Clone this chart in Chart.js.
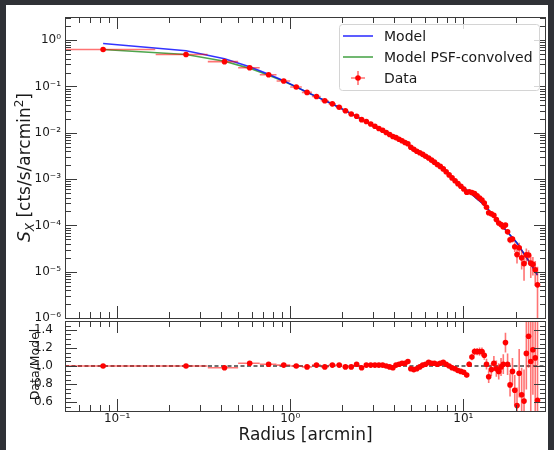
<!DOCTYPE html>
<html>
<head>
<meta charset="utf-8">
<script src="https://cdn.jsdelivr.net/npm/chart.js@4.4.0/dist/chart.umd.min.js"></script>
<style>
html, body { margin: 0; padding: 0; width: 554px; height: 450px; overflow: hidden; background: #2f3136; }
#sheet { position: absolute; left: 6px; top: 5px; width: 542px; height: 445px; background: #ffffff; }
#main { position: absolute; left: 0; top: 0; }
#ratio { position: absolute; left: 0; top: 317px; }
</style>
</head>
<body>
<div id="sheet"></div>
<canvas id="main" width="554" height="330"></canvas>
<canvas id="ratio" width="554" height="133"></canvas>
<script>
// radius bins [arcmin]
var radius = [0.083, 0.25, 0.417, 0.583, 0.75, 0.917, 1.083, 1.25, 1.417, 1.583, 1.75, 1.917, 2.083, 2.25, 2.417, 2.583, 2.75, 2.917, 3.083, 3.25, 3.417, 3.583, 3.75, 3.917,
    4.08, 4.25, 4.42, 4.6, 4.78, 4.97, 5.17, 5.38, 5.6, 5.82, 6.05, 6.3, 6.55, 6.8, 7.07, 7.35, 7.65, 7.95, 8.27, 8.6, 8.95, 9.3, 9.67, 10.05, 10.45,
    10.8, 11.2, 11.6, 12.0, 12.4, 12.8, 13.2, 13.6, 14.0, 14.5, 15.0, 15.5, 16.0, 16.5, 17.0, 17.5, 18.0, 18.6, 19.2, 19.8, 20.4, 21.0, 21.7, 22.4, 23.1, 23.8, 24.5, 25.2, 26.0, 26.8];
var radiusErr = [0.083, 0.083, 0.083, 0.083, 0.083, 0.083, 0.083, 0.083, 0.083, 0.083, 0.083, 0.083, 0.083, 0.083, 0.083, 0.083, 0.083, 0.083, 0.083, 0.083, 0.083, 0.083, 0.083, 0.083,
    0.085, 0.085, 0.088, 0.09, 0.093, 0.097, 0.1, 0.105, 0.11, 0.113, 0.118, 0.122, 0.127, 0.133, 0.138, 0.143, 0.15, 0.155, 0.16, 0.168, 0.175, 0.18, 0.19, 0.195, 0.2,
    0.2, 0.2, 0.2, 0.2, 0.2, 0.2, 0.2, 0.2, 0.22, 0.25, 0.25, 0.25, 0.25, 0.25, 0.25, 0.25, 0.28, 0.3, 0.3, 0.3, 0.3, 0.32, 0.35, 0.35, 0.35, 0.35, 0.35, 0.37, 0.4, 0.4];

// surface brightness [cts/s/arcmin^2]
var modelSx = [0.85, 0.59, 0.397, 0.265, 0.183, 0.133, 0.098, 0.0752, 0.0603, 0.0496, 0.0417, 0.0351, 0.0301, 0.0258, 0.0223, 0.0196, 0.0173, 0.0153, 0.0137, 0.0123, 0.0112, 0.0101, 0.00927, 0.00849,
    0.00778, 0.00713, 0.00653, 0.0060, 0.00553, 0.00501, 0.00456, 0.00412, 0.00375, 0.00339, 0.00305, 0.00275, 0.00249, 0.00225, 0.00203, 0.00183, 0.00160, 0.00141, 0.00123, 0.00108, 0.000951, 0.000839, 0.000743, 0.000656, 0.000579,
    0.000521, 0.000465, 0.000417, 0.000373, 0.000336, 0.000305, 0.000272, 0.000241, 0.000214, 0.000185, 0.000160, 0.000138, 0.000120, 0.000105, 0.0000910, 0.0000807, 0.0000711, 0.0000621, 0.0000540, 0.0000474, 0.0000417, 0.0000356, 0.0000293, 0.0000244, 0.0000204, 0.0000172, 0.0000146, 0.0000123, 0.0000101, 0.0000084];
var modelPsfSx = [0.63, 0.489, 0.350, 0.246, 0.175, 0.130, 0.097, 0.0752, 0.0603, 0.0496, 0.0417, 0.0351, 0.0301, 0.0258, 0.0223, 0.0196, 0.0173, 0.0153, 0.0137, 0.0123, 0.0112, 0.0101, 0.00927, 0.00849,
    0.00778, 0.00713, 0.00653, 0.0060, 0.00553, 0.00501, 0.00456, 0.00412, 0.00375, 0.00339, 0.00305, 0.00275, 0.00249, 0.00225, 0.00203, 0.00183, 0.00160, 0.00141, 0.00123, 0.00108, 0.000951, 0.000839, 0.000743, 0.000656, 0.000579,
    0.000521, 0.000465, 0.000417, 0.000373, 0.000336, 0.000305, 0.000272, 0.000241, 0.000214, 0.000185, 0.000160, 0.000138, 0.000120, 0.000105, 0.0000910, 0.0000807, 0.0000711, 0.0000621, 0.0000540, 0.0000474, 0.0000417, 0.0000356, 0.0000293, 0.0000244, 0.0000204, 0.0000172, 0.0000146, 0.0000123, 0.0000101, 0.0000084];
var dataSx = [0.63, 0.489, 0.343, 0.253, 0.179, 0.131, 0.097, 0.0744, 0.0609, 0.0491, 0.0421, 0.0355, 0.0298, 0.0255, 0.0227, 0.0192, 0.0175, 0.0155, 0.0138, 0.0124, 0.0113, 0.0101, 0.00918, 0.00832,
    0.00786, 0.00727, 0.00673, 0.00618, 0.00581, 0.00486, 0.00438, 0.00400, 0.00371, 0.00342, 0.00311, 0.00286, 0.00256, 0.00232, 0.00207, 0.00188, 0.00166, 0.00144, 0.00123, 0.00106, 0.000922, 0.000797, 0.000698, 0.000610, 0.000521,
    0.000531, 0.000512, 0.000484, 0.000433, 0.000390, 0.000354, 0.000305, 0.000246, 0.000188, 0.000178, 0.000165, 0.000134, 0.000113, 0.000104, 0.0000928, 0.000102, 0.0000725, 0.0000491, 0.0000508, 0.0000346, 0.0000234, 0.0000328, 0.0000199, 0.0000149, 0.0000233, 0.0000229, 0.0000153, 0.0000145, 0.0000110, 0.0000052];
var dataSxErr = [0.0095, 0.0049, 0.0035, 0.0025, 0.0018, 0.0013, 0.001, 0.00075, 0.0006, 0.0005, 0.00042, 0.00035, 0.0003, 0.00026, 0.00022, 0.0002, 0.00017, 0.00015, 0.00014, 0.00012, 0.00011, 0.0001, 0.000093, 0.000085,
    0.000078, 0.000071, 0.000065, 0.00006, 0.000055, 0.00006, 0.000055, 0.000049, 0.000045, 0.000041, 0.000043, 0.000039, 0.000035, 0.000034, 0.00003, 0.000029, 0.000026, 0.000024, 0.000022, 0.000022, 0.000019, 0.000018, 0.000018, 0.000016, 0.000016,
    0.0000156, 0.0000163, 0.0000167, 0.0000149, 0.0000151, 0.0000137, 0.0000136, 0.0000145, 0.000015, 0.000013, 0.0000128, 0.0000124, 0.0000108, 0.0000105, 0.00001, 0.0000089, 0.0000085, 0.0000081, 0.0000081, 0.0000081, 0.0000083, 0.0000096, 0.0000088, 0.0000085, 0.0000082, 0.000006, 0.000008, 0.0000062, 0.0000061, 0.0000076];

// data / PSF-convolved model
var ratio = [1.00, 1.00, 0.98, 1.03, 1.02, 1.01, 1.00, 0.99, 1.01, 0.99, 1.01, 1.01, 0.99, 0.99, 1.02, 0.98, 1.01, 1.01, 1.01, 1.01, 1.01, 1.00, 0.99, 0.98,
    1.01, 1.02, 1.03, 1.03, 1.05, 0.97, 0.96, 0.97, 0.99, 1.01, 1.02, 1.04, 1.03, 1.03, 1.02, 1.03, 1.04, 1.02, 1.00, 0.98, 0.97, 0.95, 0.94, 0.93, 0.90,
    1.02, 1.10, 1.16, 1.16, 1.16, 1.16, 1.12, 1.02, 0.88, 0.96, 1.03, 0.97, 0.94, 0.99, 1.02, 1.26, 1.02, 0.79, 0.94, 0.73, 0.56, 0.92, 0.68, 0.61, 1.14, 1.33, 1.05, 1.18, 1.09, 0.62];
var ratioErr = [0.015, 0.01, 0.01, 0.01, 0.01, 0.01, 0.01, 0.01, 0.01, 0.01, 0.01, 0.01, 0.01, 0.01, 0.01, 0.01, 0.01, 0.01, 0.01, 0.01, 0.01, 0.01, 0.01, 0.01,
    0.01, 0.01, 0.01, 0.01, 0.01, 0.012, 0.012, 0.012, 0.012, 0.012, 0.014, 0.014, 0.014, 0.015, 0.015, 0.016, 0.016, 0.017, 0.018, 0.02, 0.02, 0.022, 0.024, 0.025, 0.028,
    0.03, 0.035, 0.04, 0.04, 0.045, 0.045, 0.05, 0.06, 0.07, 0.07, 0.08, 0.09, 0.09, 0.1, 0.11, 0.11, 0.12, 0.13, 0.15, 0.17, 0.2, 0.27, 0.3, 0.35, 0.4, 0.35, 0.55, 0.5, 0.6, 0.9];
var ratioRef = 1.0;

// axes
var xLimits = [0.05, 30];
var yLimits = [1e-6, 3.1623];
var ratioLimits = [0.5, 1.5];
var xTickValues = [0.1, 1, 10];
var xTickLabels = ['10\u207B\u00B9', '10\u2070', '10\u00B9'];
var yTickValues = [1e-6, 1e-5, 1e-4, 1e-3, 1e-2, 1e-1, 1];
var yTickLabels = ['10\u207B\u2076', '10\u207B\u2075', '10\u207B\u2074', '10\u207B\u00B3', '10\u207B\u00B2', '10\u207B\u00B9', '10\u2070'];
var ratioTickValues = [0.6, 0.8, 1.0, 1.2, 1.4];
var ratioTickLabels = ['0.6', '0.8', '1.0', '1.2', '1.4'];
var ratioMinorTicks = [0.55, 0.65, 0.7, 0.75, 0.85, 0.9, 0.95, 1.05, 1.1, 1.15, 1.25, 1.3, 1.35, 1.45];

var FONT = '"DejaVu Sans"';
var TEXT = '#1a1a1a';
var MAJOR = 12, MINOR = 6;

Chart.defaults.font.family = 'DejaVu Sans';

function points(xs, ys) {
    return xs.map(function (x, i) { return { x: x, y: ys[i] }; });
}

function logMinors(min, max) {
    var out = [];
    for (var e = Math.floor(Math.log10(min)); e <= Math.ceil(Math.log10(max)); e++) {
        for (var m = 2; m <= 9; m++) {
            var v = m * Math.pow(10, e);
            if (v > min && v < max) out.push(v);
        }
    }
    return out;
}

function noPadding(s) {
    s.paddingTop = 0;
    s.paddingBottom = 0;
    s.paddingLeft = 0;
    s.paddingRight = 0;
}

var errorBars = {
    id: 'errorBars',
    beforeDatasetDraw: function (chart, args) {
        var ds = chart.data.datasets[args.index];
        if (!ds.errY) return;
        var ctx = chart.ctx, a = chart.chartArea, xs = chart.scales.x, ys = chart.scales.y;
        ctx.save();
        ctx.beginPath();
        ctx.rect(a.left, a.top, a.right - a.left, a.bottom - a.top);
        ctx.clip();
        ctx.strokeStyle = 'rgba(255,0,0,0.55)';
        ctx.lineWidth = 1.6;
        ds.data.forEach(function (p, i) {
            var px = xs.getPixelForValue(p.x), py = ys.getPixelForValue(p.y);
            var lo = p.y - ds.errY[i];
            var pLo = lo <= 0 ? a.bottom + 3 : ys.getPixelForValue(lo);
            var pHi = ys.getPixelForValue(p.y + ds.errY[i]);
            var xl = p.x - ds.errX[i];
            var pxL = xl <= 0 ? a.left - 3 : xs.getPixelForValue(xl);
            var pxR = xs.getPixelForValue(p.x + ds.errX[i]);
            ctx.beginPath();
            ctx.moveTo(px, pLo); ctx.lineTo(px, pHi);
            ctx.moveTo(pxL, py); ctx.lineTo(pxR, py);
            ctx.stroke();
        });
        ctx.restore();
    }
};

function makeFrame(yMajor, yMinor, extras) {
    return {
        id: 'frame',
        afterDraw: function (chart) {
            var ctx = chart.ctx, a = chart.chartArea, xs = chart.scales.x, ys = chart.scales.y;
            ctx.save();
            ctx.strokeStyle = '#3a3a3a';
            ctx.lineWidth = 1;
            ctx.beginPath();
            function vt(v, len) {
                var p = Math.round(xs.getPixelForValue(v)) + 0.5;
                ctx.moveTo(p, a.bottom); ctx.lineTo(p, a.bottom - len);
                ctx.moveTo(p, a.top); ctx.lineTo(p, a.top + len);
            }
            function ht(v, len) {
                var p = Math.round(ys.getPixelForValue(v)) + 0.5;
                ctx.moveTo(a.left, p); ctx.lineTo(a.left + len, p);
                ctx.moveTo(a.right, p); ctx.lineTo(a.right - len, p);
            }
            xTickValues.forEach(function (v) { vt(v, MAJOR); });
            logMinors(xLimits[0], xLimits[1]).forEach(function (v) { vt(v, MINOR); });
            yMajor.forEach(function (v) { ht(v, MAJOR); });
            yMinor.forEach(function (v) { ht(v, MINOR); });
            ctx.stroke();
            ctx.strokeRect(a.left + 0.5, a.top + 0.5, a.right - a.left - 1, a.bottom - a.top);
            ctx.restore();
            if (extras) extras(chart);
        }
    };
}

function drawRotated(ctx, cx, cy, parts) {
    ctx.save();
    ctx.translate(cx, cy);
    ctx.rotate(-Math.PI / 2);
    ctx.fillStyle = TEXT;
    ctx.textBaseline = 'alphabetic';
    var total = 0;
    parts.forEach(function (p) { ctx.font = p.f; p.w = ctx.measureText(p.t).width; total += p.w; });
    var x = -total / 2;
    parts.forEach(function (p) { ctx.font = p.f; ctx.fillText(p.t, x, p.dy); x += p.w; });
    ctx.restore();
}

function drawMainExtras(chart) {
    var ctx = chart.ctx;
    drawRotated(ctx, 25, 167.5, [
        { t: 'S', f: 'italic 17px ' + FONT, dy: 5 },
        { t: 'X', f: 'italic 12px ' + FONT, dy: 9 },
        { t: ' [cts/s/arcmin', f: '17px ' + FONT, dy: 5 },
        { t: '2', f: '12px ' + FONT, dy: -2 },
        { t: ']', f: '17px ' + FONT, dy: 5 }
    ]);

    // legend
    var ds = chart.data.datasets;
    ctx.save();
    ctx.beginPath();
    ctx.roundRect(339.5, 24.5, 200, 66, 3);
    ctx.fillStyle = 'rgba(255,255,255,0.8)';
    ctx.fill();
    ctx.strokeStyle = '#d4d4d4';
    ctx.lineWidth = 1;
    ctx.stroke();
    ctx.font = '14px ' + FONT;
    ctx.fillStyle = TEXT;
    ctx.textBaseline = 'alphabetic';
    var rows = [36, 57, 78];
    ds.forEach(function (d, i) {
        var y = rows[i];
        if (d.errY) {
            ctx.strokeStyle = 'rgba(255,0,0,0.55)';
            ctx.lineWidth = 1.6;
            ctx.beginPath();
            ctx.moveTo(358, y - 7); ctx.lineTo(358, y + 7);
            ctx.moveTo(351, y); ctx.lineTo(365, y);
            ctx.stroke();
            ctx.fillStyle = 'red';
            ctx.beginPath();
            ctx.arc(358, y, 2.8, 0, Math.PI * 2);
            ctx.fill();
        } else {
            ctx.strokeStyle = d.borderColor;
            ctx.lineWidth = 1.6;
            ctx.beginPath();
            ctx.moveTo(343, y); ctx.lineTo(373, y);
            ctx.stroke();
        }
        ctx.fillStyle = TEXT;
        ctx.fillText(d.label, 384, y + 5.3);
    });
    ctx.restore();
}

function drawRatioExtras(chart) {
    var ctx = chart.ctx;
    drawRotated(ctx, 35, 47.5, [{ t: 'Data/Model', f: '12.5px ' + FONT, dy: 3.5 }]);
    ctx.save();
    ctx.fillStyle = TEXT;
    ctx.font = '17px ' + FONT;
    ctx.textAlign = 'center';
    ctx.textBaseline = 'alphabetic';
    var a = chart.chartArea;
    ctx.fillText('Radius [arcmin]', (a.left + a.right) / 2, 123);
    ctx.restore();
}

var tickFont = { family: 'DejaVu Sans', size: 12 };

function xScale(showLabels, height) {
    return {
        type: 'logarithmic',
        min: xLimits[0], max: xLimits[1], bounds: 'data',
        display: showLabels,
        grid: { display: false, drawTicks: false },
        border: { display: false },
        ticks: {
            font: tickFont, color: TEXT, padding: 1, autoSkip: false, maxRotation: 0,
            callback: function (v) { return xTickLabels[xTickValues.indexOf(v)]; }
        },
        afterBuildTicks: function (s) { s.ticks = xTickValues.map(function (v) { return { value: v }; }); },
        afterFit: function (s) { s.height = height; noPadding(s); }
    };
}

new Chart(document.getElementById('main'), {
    type: 'scatter',
    data: {
        datasets: [
            {
                label: 'Model',
                data: points(radius, modelSx),
                showLine: true, pointRadius: 0, borderWidth: 1.6,
                borderColor: 'rgba(0,0,255,0.8)', order: 1
            },
            {
                label: 'Model PSF-convolved',
                data: points(radius, modelPsfSx),
                showLine: true, pointRadius: 0, borderWidth: 1.6,
                borderColor: 'rgba(0,128,0,0.7)', order: 2
            },
            {
                label: 'Data',
                data: points(radius, dataSx),
                errX: radiusErr, errY: dataSxErr,
                showLine: false, pointRadius: 2.8, pointBorderWidth: 0,
                pointBackgroundColor: 'red', borderColor: 'red', order: 0
            }
        ]
    },
    options: {
        responsive: false, animation: false, devicePixelRatio: 1,
        layout: { padding: { left: 0, top: 17, right: 8, bottom: 12 } },
        plugins: { legend: { display: false }, tooltip: { enabled: false } },
        scales: {
            x: xScale(false, 0),
            y: {
                type: 'logarithmic',
                min: yLimits[0], max: yLimits[1], bounds: 'data',
                grid: { display: false, drawTicks: false },
                border: { display: false },
                ticks: {
                    font: tickFont, color: TEXT, padding: 4, autoSkip: false,
                    callback: function (v) { return yTickLabels[yTickValues.indexOf(v)]; }
                },
                afterBuildTicks: function (s) { s.ticks = yTickValues.map(function (v) { return { value: v }; }); },
                afterFit: function (s) { s.width = 65; noPadding(s); }
            }
        }
    },
    plugins: [errorBars, makeFrame(yTickValues, logMinors(yLimits[0], yLimits[1]), drawMainExtras)]
});

new Chart(document.getElementById('ratio'), {
    type: 'scatter',
    data: {
        datasets: [
            {
                label: 'Data',
                data: points(radius, ratio),
                errX: radiusErr, errY: ratioErr,
                showLine: false, pointRadius: 2.8, pointBorderWidth: 0,
                pointBackgroundColor: 'red', borderColor: 'red', order: 0
            },
            {
                label: 'unity',
                data: points(xLimits, [ratioRef, ratioRef]),
                showLine: true, pointRadius: 0, borderWidth: 1.8,
                borderColor: '#6e6e6e', borderDash: [4, 2.5], order: 1
            }
        ]
    },
    options: {
        responsive: false, animation: false, devicePixelRatio: 1,
        layout: { padding: { left: 0, top: 1, right: 8, bottom: 0 } },
        plugins: { legend: { display: false }, tooltip: { enabled: false } },
        scales: {
            x: xScale(true, 39),
            y: {
                type: 'linear',
                min: ratioLimits[0], max: ratioLimits[1], bounds: 'data',
                grid: { display: false, drawTicks: false },
                border: { display: false },
                ticks: {
                    font: tickFont, color: TEXT, padding: 12, autoSkip: false,
                    callback: function (v) { return ratioTickLabels[ratioTickValues.indexOf(v)]; }
                },
                afterBuildTicks: function (s) { s.ticks = ratioTickValues.map(function (v) { return { value: v }; }); },
                afterFit: function (s) { s.width = 65; noPadding(s); }
            }
        }
    },
    plugins: [errorBars, makeFrame(ratioTickValues, ratioMinorTicks, drawRatioExtras)]
});
</script>
</body>
</html>
